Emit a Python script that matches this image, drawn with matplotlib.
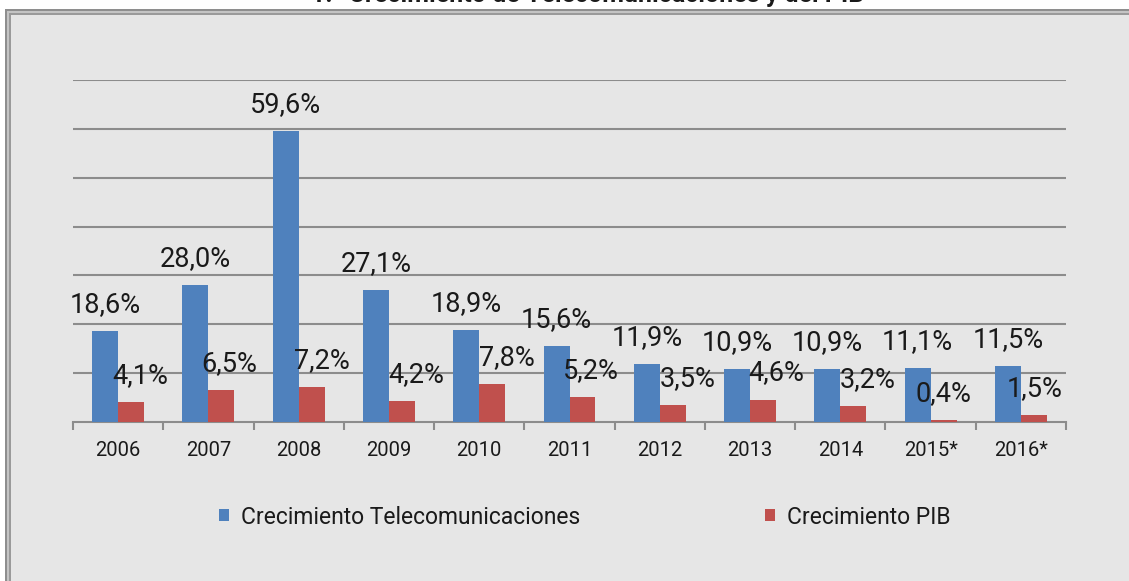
import matplotlib
matplotlib.use("Agg")
import matplotlib.pyplot as plt
from matplotlib.patches import Rectangle
import numpy as np

years = ["2006", "2007", "2008", "2009", "2010", "2011", "2012", "2013", "2014", "2015*", "2016*"]
telecom = [18.6, 28.0, 59.6, 27.1, 18.9, 15.6, 11.9, 10.9, 10.9, 11.1, 11.5]
pib = [4.1, 6.5, 7.2, 4.2, 7.8, 5.2, 3.5, 4.6, 3.2, 0.4, 1.5]
series_names = ["Crecimiento Telecomunicaciones", "Crecimiento PIB"]
title = "1.- Crecimiento de Telecomunicaciones y del PIB"

# horizontal nudges (pixels) of the PIB data labels, as placed in the original
pib_label_dx = [9, 8, 10, 14, 14.5, 8.5, 14.5, 13, 14, 0, 1]

BLUE = "#4F81BD"
RED = "#C0504D"
BG = "#E6E6E6"
GRID = "#8C8C8C"
FONT = ["Roboto", "DejaVu Sans"]

W, H = 1129, 581
fig = plt.figure(figsize=(W / 100, H / 100), dpi=100, facecolor="white")

def fx(px):
    return px / W

def fy(py):
    return 1 - py / H

# panel background with double frame
fig.patches.append(Rectangle((fx(5), 0), fx(W + 20) - fx(5), fy(9), transform=fig.transFigure,
                             facecolor="#8E8E8E", edgecolor="none", zorder=-5))
fig.patches.append(Rectangle((fx(7), 0), fx(W + 20) - fx(7), fy(11), transform=fig.transFigure,
                             facecolor="#C4C4C4", edgecolor="none", zorder=-4))
fig.patches.append(Rectangle((fx(9), 0), fx(W + 20) - fx(9), fy(13), transform=fig.transFigure,
                             facecolor="#9A9A9A", edgecolor="none", zorder=-3))
fig.patches.append(Rectangle((fx(11), 0), fx(W + 20) - fx(11), fy(15), transform=fig.transFigure,
                             facecolor=BG, edgecolor="none", zorder=-2))

fig.text(fx(588), fy(2), title, ha="center", va="baseline", fontsize=18,
         fontweight="bold", family=FONT, color="#1a1a1a")

ax = fig.add_axes([fx(73), fy(422), fx(1066) - fx(73), fy(80) - fy(422)])
ax.set_facecolor("none")

x = np.arange(len(years))
bw = 0.288
b1 = ax.bar(x - bw / 2, telecom, bw, color=BLUE, zorder=3, label=series_names[0])
b2 = ax.bar(x + bw / 2, pib, bw, color=RED, zorder=3, label=series_names[1])

ax.set_xlim(-0.5, len(years) - 0.5)
ax.set_ylim(0, 70)
ax.set_yticks(np.arange(10, 71, 10))
ax.yaxis.grid(True, color=GRID, linewidth=1.5, zorder=0)
ax.tick_params(axis="y", length=0, labelleft=False)
for s in ["left", "right", "top"]:
    ax.spines[s].set_visible(False)
ax.spines["bottom"].set_color(GRID)
ax.spines["bottom"].set_linewidth(1.5)

ax.set_xticks(x)
ax.set_xticklabels(years, family=FONT, fontsize=14.5, color="#1a1a1a")
ax.tick_params(axis="x", length=0, pad=14)
ax.set_xticks(np.arange(-0.5, len(years), 1), minor=True)
ax.tick_params(axis="x", which="minor", length=6, width=1.5, color=GRID, direction="out")

for xi, v in zip(x, telecom):
    ax.annotate(f"{v:.1f}%".replace(".", ","), (xi - bw / 2, v), xytext=(0, 19),
                textcoords="offset pixels", ha="center", va="baseline",
                fontsize=19.5, family=FONT, color="#1a1a1a", zorder=5)
for xi, v, dx in zip(x, pib, pib_label_dx):
    ax.annotate(f"{v:.1f}%".replace(".", ","), (xi + bw / 2, v), xytext=(dx, 19),
                textcoords="offset pixels", ha="center", va="baseline",
                fontsize=19.5, family=FONT, color="#1a1a1a", zorder=5)

leg = fig.legend(handles=[b1, b2], labels=series_names, loc="center",
                 bbox_to_anchor=(fx(585), fy(517)), ncol=2, frameon=False,
                 prop={"family": FONT, "size": 16.5}, handlelength=0.42, handleheight=0.42,
                 handletextpad=0.55, columnspacing=8.05, borderaxespad=0)
for t in leg.get_texts():
    t.set_color("#1a1a1a")

fig.savefig("out.png", dpi=100, facecolor=fig.get_facecolor())
